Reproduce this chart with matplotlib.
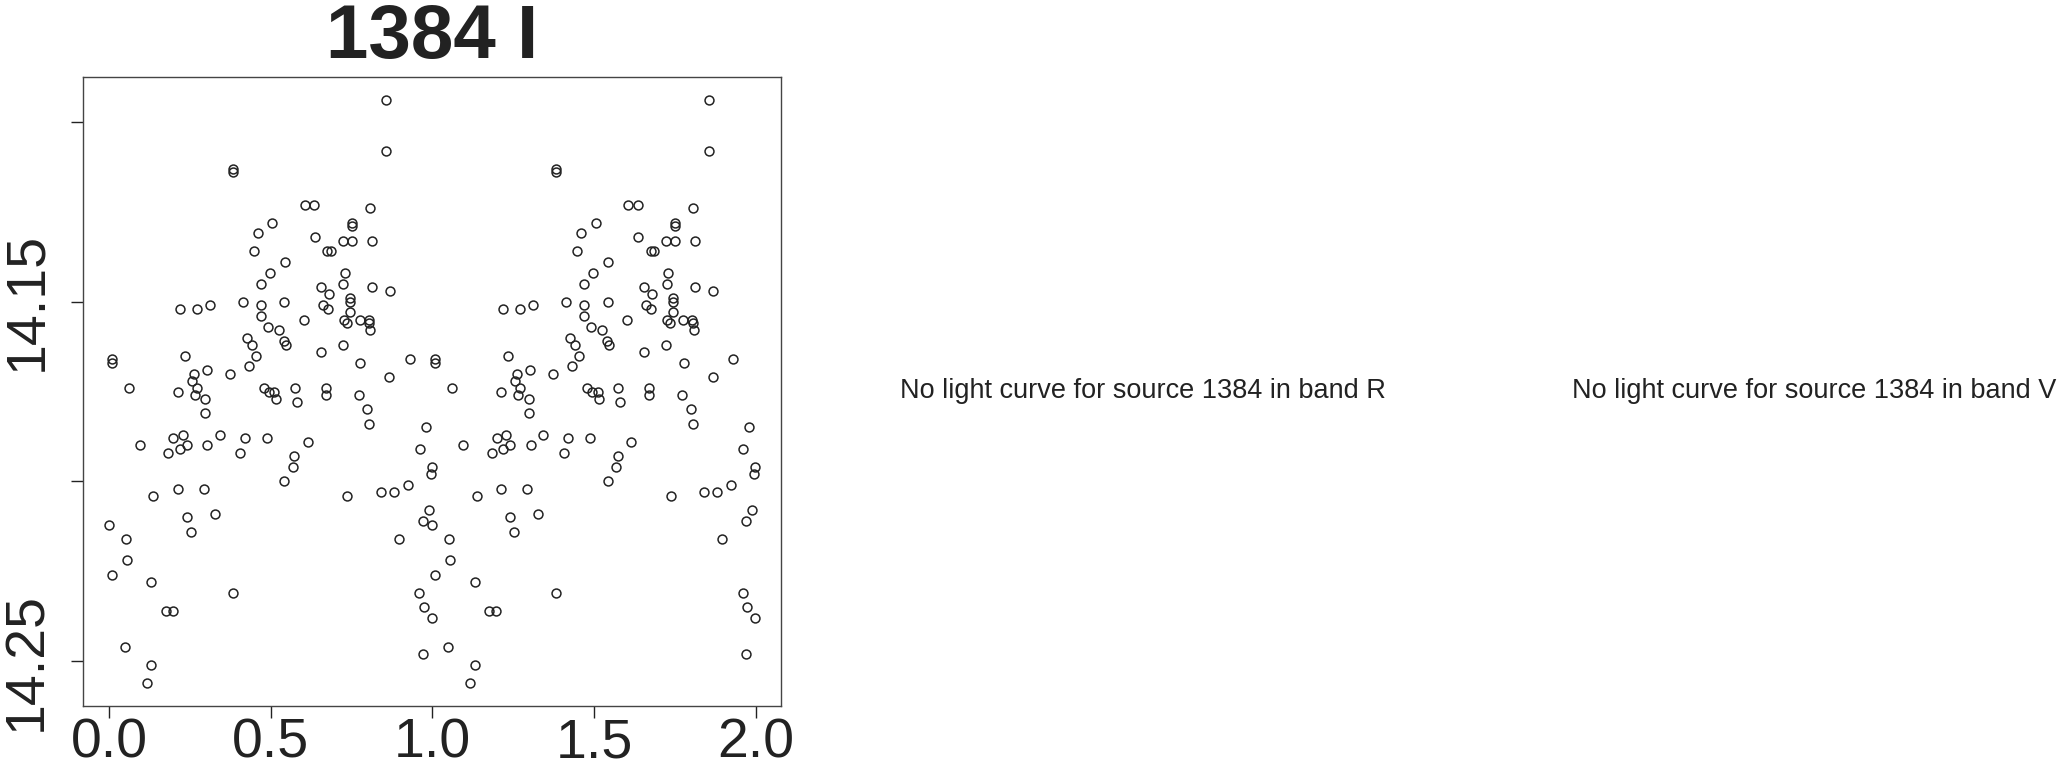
import matplotlib
matplotlib.use("Agg")
import matplotlib.pyplot as plt
import numpy as np

# phase-folded I band light curve of source 1384 (phase 0..1, plotted twice)
phase = [
    0.856, 0.856, 0.382, 0.382, 0.605, 0.635, 0.807, 0.750, 0.750, 0.505,
    0.460, 0.636, 0.724, 0.751, 0.812, 0.448, 0.675, 0.687, 0.544, 0.498,
    0.729, 0.469, 0.725, 0.656, 0.812, 0.868, 0.679, 0.744, 0.744, 0.415,
    0.542, 0.469, 0.661, 0.311, 0.271, 0.219, 0.677, 0.744, 0.469, 0.602,
    0.726, 0.776, 0.803, 0.805, 0.736, 0.492, 0.526, 0.808, 0.427, 0.541,
    0.547, 0.442, 0.723, 0.654, 0.453, 0.234, 0.008, 0.008, 0.777, 0.930,
    0.432, 0.374, 0.262, 0.303, 0.257, 0.867, 0.061, 0.272, 0.479, 0.495,
    0.511, 0.574, 0.671, 0.671, 0.213, 0.266, 0.516, 0.298, 0.772, 0.581,
    0.799, 0.298, 0.805, 0.979, 0.342, 0.229, 0.199, 0.421, 0.488, 0.095,
    0.241, 0.304, 0.616, 0.219, 0.183, 0.406, 0.961, 0.573, 0.568, 0.999,
    0.996, 0.542, 0.925, 0.213, 0.292, 0.137, 0.737, 0.840, 0.881, 0.990,
    0.328, 0.240, 0.970, 0.000, 0.053, 0.252, 0.897, 0.054, 0.008, 0.131,
    0.384, 0.960, 0.175, 0.197, 0.973, 0.999, 0.048, 0.971, 0.131, 0.117,
]
mag = [
    14.094, 14.108, 14.113, 14.114, 14.123, 14.123, 14.124, 14.128, 14.129, 14.128,
    14.131, 14.132, 14.133, 14.133, 14.133, 14.136, 14.136, 14.136, 14.139, 14.142,
    14.142, 14.145, 14.145, 14.146, 14.146, 14.147, 14.148, 14.149, 14.150, 14.150,
    14.150, 14.151, 14.151, 14.151, 14.152, 14.152, 14.152, 14.153, 14.154, 14.155,
    14.155, 14.155, 14.155, 14.156, 14.156, 14.157, 14.158, 14.158, 14.160, 14.161,
    14.162, 14.162, 14.162, 14.164, 14.165, 14.165, 14.166, 14.167, 14.167, 14.166,
    14.168, 14.170, 14.170, 14.169, 14.172, 14.171, 14.174, 14.174, 14.174, 14.175,
    14.175, 14.174, 14.174, 14.176, 14.175, 14.176, 14.177, 14.177, 14.176, 14.178,
    14.180, 14.181, 14.184, 14.185, 14.187, 14.187, 14.188, 14.188, 14.188, 14.190,
    14.190, 14.190, 14.189, 14.191, 14.192, 14.192, 14.191, 14.193, 14.196, 14.196,
    14.198, 14.200, 14.201, 14.202, 14.202, 14.204, 14.204, 14.203, 14.203, 14.208,
    14.209, 14.210, 14.211, 14.212, 14.216, 14.214, 14.216, 14.222, 14.226, 14.228,
    14.231, 14.231, 14.236, 14.236, 14.235, 14.238, 14.246, 14.248, 14.251, 14.256,
]

title = "1384 I"
missing_bands = ["R", "V"]
source_id = "1384"
x_ticks = [0.0, 0.5, 1.0, 1.5, 2.0]
x_tick_labels = ["0.0", "0.5", "1.0", "1.5", "2.0"]
y_ticks = [14.10, 14.15, 14.20, 14.25]
y_tick_labels = ["", "14.15", "", "14.25"]

# two cycles
x = np.concatenate([np.array(phase), np.array(phase) + 1.0])
y = np.concatenate([np.array(mag), np.array(mag)])

plt.rcParams["font.family"] = ["Liberation Sans", "DejaVu Sans"]
ink = "#222222"

fig = plt.figure(figsize=(20.64, 7.64), dpi=100)
ax = fig.add_axes([0.04036, 0.07592, 0.33808, 0.82328])

ax.plot(x, y, linestyle="none", marker="o", markersize=6.4,
        markerfacecolor="none", markeredgecolor=ink, markeredgewidth=1.1)

# R-style axis ranges (4% padding)
xr = x.max() - x.min()
ax.set_xlim(x.min() - 0.04 * xr, x.max() + 0.04 * xr)
yr = y.max() - y.min()
ax.set_ylim(y.max() + 0.04 * yr, y.min() - 0.04 * yr)  # magnitudes: inverted

ax.set_xticks(x_ticks)
ax.set_xticklabels(x_tick_labels)
ax.set_yticks(y_ticks)
ax.set_yticklabels(y_tick_labels, rotation=90, va="center")

ax.tick_params(axis="both", direction="out", length=8.6, width=1.0,
               colors=ink, labelsize=40, labelcolor=ink)
ax.tick_params(axis="x", pad=0)
ax.tick_params(axis="y", pad=13)
for s in ax.spines.values():
    s.set_color("#444444")
    s.set_linewidth(1.0)

ax.set_title(title, fontsize=55, fontweight="bold", color=ink, pad=13.7)

# empty panels for the missing bands
text_x = [0.5538, 0.8791]
for band, tx in zip(missing_bands, text_x):
    fig.text(tx, 0.4882, f"No light curve for source {source_id} in band {band}",
             ha="center", va="center", fontsize=19.5, color=ink)

plt.savefig("out.png", dpi=100)
